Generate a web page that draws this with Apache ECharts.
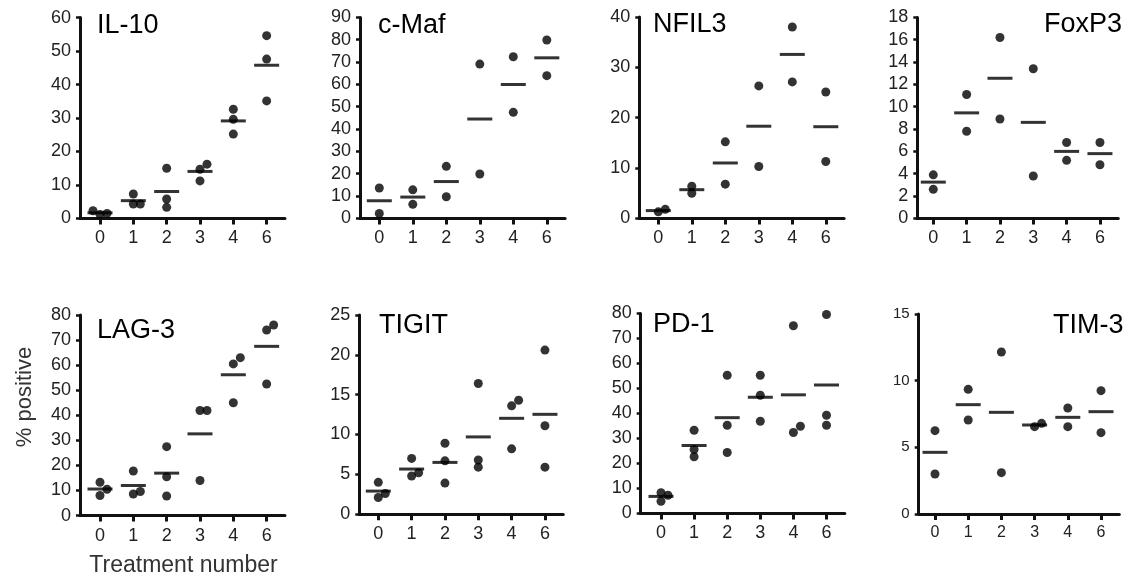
<!DOCTYPE html>
<html><head><meta charset="utf-8">
<script src="https://cdn.jsdelivr.net/npm/echarts@6/dist/echarts.min.js"></script>
<style>html,body{margin:0;padding:0;background:#fff}#c{width:1130px;height:586px}</style>
</head><body><div id="c"></div>
<script>
// ---------- data ----------
const categories = ['0', '1', '2', '3', '4', '6'];
const il10  = [[2.3, 1.5, 1.2], [7.3, 4.3, 4.3], [15.0, 5.8, 3.3], [16.2, 14.7, 11.2], [32.6, 29.6, 25.2], [54.6, 47.6, 35.1]];
const cmaf  = [[13.6, 2.2], [12.8, 6.3], [23.3, 9.7], [69.1, 19.9], [72.4, 47.5], [79.9, 63.9]];
const nfil3 = [[1.3, 1.8], [5.0, 6.4], [15.2, 6.8], [26.3, 10.3], [38.0, 27.1], [25.1, 11.3]];
const foxp3 = [[3.9, 2.6], [11.1, 7.8], [16.2, 8.9], [13.4, 3.8], [6.8, 5.2], [6.8, 4.8]];
const lag3  = [[13.3, 10.5, 8.0], [17.8, 8.6, 9.6], [27.5, 15.5, 7.8], [41.9, 41.9, 14.0], [63.0, 60.5, 45.0], [76.0, 74.0, 52.5]];
const tigit = [[4.0, 2.1, 2.6], [7.0, 4.8, 5.2], [8.9, 6.7, 3.9], [16.4, 5.9, 6.8], [14.3, 13.6, 8.2], [20.6, 11.1, 5.9]];
const pd1   = [[8.3, 4.9, 7.3], [33.3, 22.7, 25.6], [55.3, 35.3, 24.4], [55.3, 47.3, 36.9], [75.1, 32.4, 34.9], [79.6, 35.3, 39.3]];
const tim3  = [[6.25, 3.0], [9.35, 7.05], [12.15, 3.1], [6.55, 6.8], [7.95, 6.55], [9.25, 6.1]];
const panelData = [il10, cmaf, nfil3, foxp3, lag3, tigit, pd1, tim3];
const titles = ['IL-10', 'c-Maf', 'NFIL3', 'FoxP3', 'LAG-3', 'TIGIT', 'PD-1', 'TIM-3'];
const yMax  = [60, 90, 40, 18, 80, 25, 80, 15];
const yStep = [10, 10, 10, 2, 10, 5, 10, 5];
const yAxisTitle = '% positive';
const xAxisTitle = 'Treatment number';

// ---------- layout (pixels) ----------
const layout = [
  {ax: 80,    c0: 100,   sp: 33.33, top: 17.6, bot: 218.4, tx: 97,   ty: 25.5},
  {ax: 360,   c0: 379.3, sp: 33.5,  top: 17.4, bot: 218.4, tx: 378,  ty: 25.5},
  {ax: 639.3, c0: 658.3, sp: 33.5,  top: 16.9, bot: 218.4, tx: 653,  ty: 24.8},
  {ax: 917.3, c0: 933.3, sp: 33.33, top: 17.4, bot: 218.4, tx: 1044, ty: 25},
  {ax: 80,    c0: 100,   sp: 33.33, top: 315,  bot: 515.6, tx: 97,   ty: 331},
  {ax: 359.3, c0: 378.3, sp: 33.33, top: 315,  bot: 514.2, tx: 379,  ty: 325.5},
  {ax: 640.7, c0: 661,   sp: 33.1,  top: 313.5,bot: 513.5, tx: 653,  ty: 325},
  {ax: 918.7, c0: 935,   sp: 33.2,  top: 314,  bot: 514,   tx: 1053, ty: 325.4, small: true}
];
const TAIL = 18.3;
const FONT = '"Liberation Sans", Arial, Helvetica, sans-serif';
const INK = '#111';

const chart = echarts.init(document.getElementById('c'), null, {renderer: 'canvas'});
const idx = categories.map((c, i) => i);

function mean(a) { return a.reduce((s, v) => s + v, 0) / a.length; }

function buildOption(offsets) {
  const grid = [], xAxis = [], yAxis = [], series = [], graphic = [];
  layout.forEach((L, i) => {
    const end = L.c0 + 5 * L.sp + TAIL;
    grid.push({left: L.ax, top: L.top, width: end - L.ax, height: L.bot - L.top, containLabel: false});
    xAxis.push({
      type: 'value', gridIndex: i,
      min: (L.ax - L.c0) / L.sp, max: 5 + TAIL / L.sp,
      axisLine: {show: true, onZero: false, lineStyle: {color: INK, width: 3}},
      axisTick: {show: true, length: 6, customValues: idx, lineStyle: {color: INK, width: 3}},
      axisLabel: {show: true, customValues: idx, margin: 11, fontSize: L.small ? 16 : 18, color: '#222',
        fontFamily: FONT, formatter: v => categories[Math.round(v)]},
      splitLine: {show: false}
    });
    yAxis.push({
      type: 'value', gridIndex: i, min: 0, max: yMax[i], interval: yStep[i],
      axisLine: {show: true, onZero: false, lineStyle: {color: INK, width: 3}},
      axisTick: {show: true, length: 4, lineStyle: {color: INK, width: 2.5}},
      axisLabel: {show: true, margin: 9, fontSize: L.small ? 15 : 18, color: '#222', fontFamily: FONT},
      splitLine: {show: false}
    });
    const d = panelData[i];
    const dots = [];
    d.forEach((vals, ci) => vals.forEach((v, k) => {
      const off = offsets ? offsets[i][ci][k] : 0;
      dots.push({value: [ci, v], symbolOffset: [off, 0]});
    }));
    series.push({
      type: 'scatter', xAxisIndex: i, yAxisIndex: i, symbol: 'circle', symbolSize: 9,
      itemStyle: {color: '#000'}, data: dots, silent: true, z: 3
    });
    series.push({
      type: 'scatter', xAxisIndex: i, yAxisIndex: i, symbol: 'rect', symbolSize: [25, 3],
      itemStyle: {color: '#000'}, data: d.map((vals, ci) => [ci, mean(vals)]), silent: true, z: 4
    });
    graphic.push({
      type: 'text', silent: true,
      style: {text: titles[i], x: L.tx, y: L.ty, fill: '#000', font: '27px ' + FONT,
        align: 'left', verticalAlign: 'middle', textAlign: 'left', textVerticalAlign: 'middle'}
    });
  });
  graphic.push({
    type: 'text', silent: true, x: 25, y: 397, rotation: Math.PI / 2,
    style: {text: yAxisTitle, x: 0, y: 0, fill: '#333', font: '22px ' + FONT,
      align: 'center', verticalAlign: 'middle', textAlign: 'center', textVerticalAlign: 'middle'}
  });
  graphic.push({
    type: 'text', silent: true,
    style: {text: xAxisTitle, x: 183.5, y: 566, fill: '#333', font: '23px ' + FONT,
      align: 'center', verticalAlign: 'middle', textAlign: 'center', textVerticalAlign: 'middle'}
  });
  return {animation: false, backgroundColor: '#fff', grid, xAxis, yAxis, series, graphic};
}

chart.setOption(buildOption(null));

// simple beeswarm spreading of overlapping dots, using the chart's own pixel scale
const STEP = 7, DIST = 7;
const cands = [0, STEP, -STEP, 2 * STEP, -2 * STEP, 3 * STEP, -3 * STEP];
const offsets = panelData.map((d, i) => d.map((vals, ci) => {
  const ys = vals.map(v => chart.convertToPixel({gridIndex: i}, [ci, v])[1]);
  const order = ys.map((y, k) => k).sort((a, b) => ys[b] - ys[a]);
  const placed = [];
  const offs = vals.map(() => 0);
  order.forEach(k => {
    for (const c of cands) {
      if (placed.every(q => Math.hypot(q.x - c, q.y - ys[k]) >= DIST - 1e-6)) {
        offs[k] = c; placed.push({x: c, y: ys[k]}); break;
      }
    }
  });
  return offs;
}));
chart.setOption(buildOption(offsets), true);
</script>
</body></html>
